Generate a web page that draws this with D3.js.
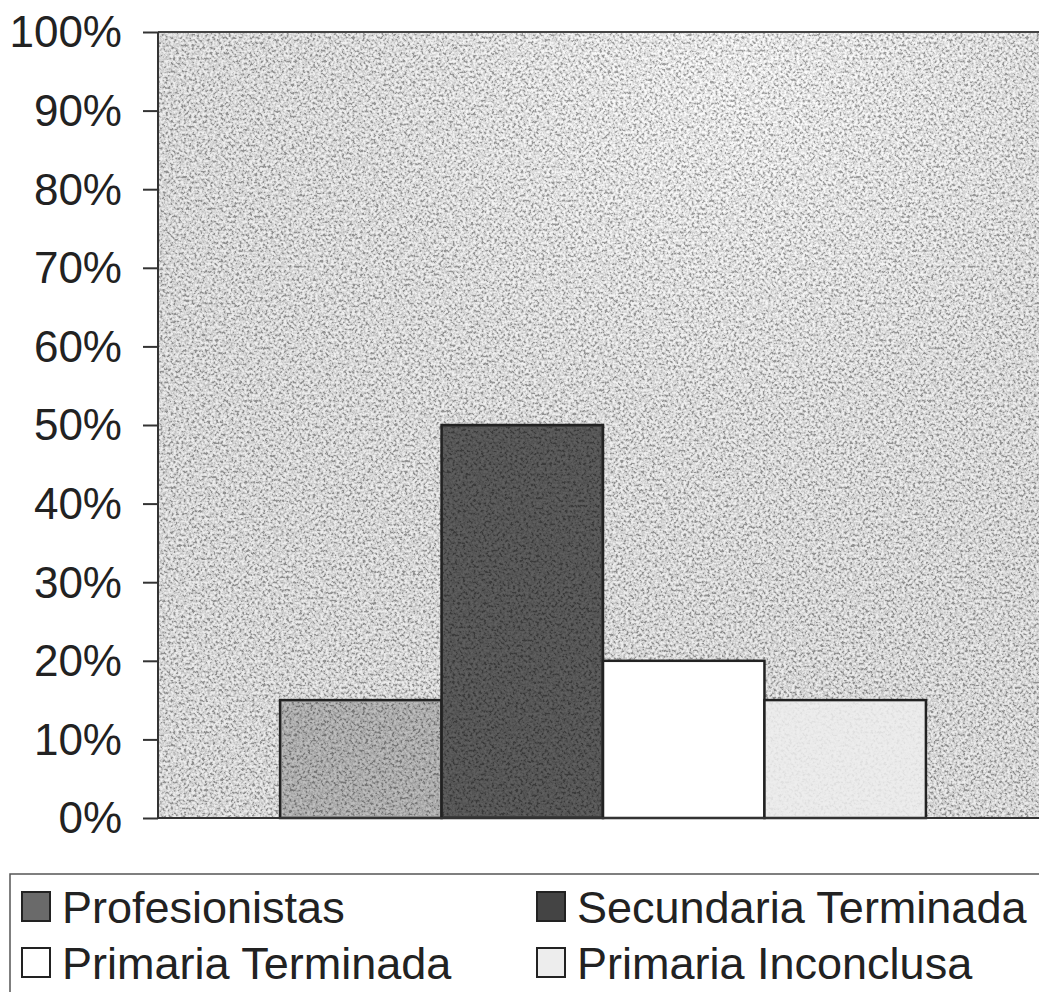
<!DOCTYPE html>
<html lang="es">
<head>
  <meta charset="UTF-8">
  <title>Nivel de estudios</title>
  <style>
    body { margin: 0; background: #fff; }
    svg text { font-family: "Liberation Sans", Arial, sans-serif; fill: #222; }
    .axis path, .axis line { stroke: #333; stroke-width: 2px; }
  </style>
</head>
<body>
  <script src="https://cdn.jsdelivr.net/npm/d3@7"></script>
  <script>

    // datos
    var categories = ["Nivel"];
    var series = ["Profesionistas", "Secundaria Terminada", "Primaria Terminada", "Primaria Inconclusa"];
    var values = [0.15, 0.50, 0.20, 0.15];
    var colors = ["#a4a4a4", "#444444", "#ffffff", "#ededed"];
    var yTicks = [0, 0.1, 0.2, 0.3, 0.4, 0.5, 0.6, 0.7, 0.8, 0.9, 1];

    var width = 1039, height = 992;
    var margin = { top: 32, left: 158, bottom: 818, right: 1048 };

    var svg = d3.select("body").append("svg")
        .attr("width", width)
        .attr("height", height);

    // textura granulada (ruido gris)
    var defs = svg.append("defs");
    var f = defs.append("filter").attr("id", "grain")
        .attr("x", 0).attr("y", 0).attr("width", "100%").attr("height", "100%");
    f.append("feTurbulence").attr("type", "fractalNoise")
        .attr("baseFrequency", 0.38).attr("numOctaves", 2).attr("seed", 7).attr("result", "noise");
    f.append("feColorMatrix").attr("in", "noise").attr("type", "matrix")
        .attr("values", "2.8 0 0 0 -0.9  2.8 0 0 0 -0.9  2.8 0 0 0 -0.9  0 0 0 0 1");

    var grad = defs.append("radialGradient").attr("id", "bgGrad")
        .attr("cx", "0.65").attr("cy", "0.06").attr("r", "0.7");
    grad.append("stop").attr("offset", "0").attr("stop-color", "#fdfdfd");
    grad.append("stop").attr("offset", "0.6").attr("stop-color", "#e8e8e8");
    grad.append("stop").attr("offset", "1").attr("stop-color", "#e2e2e2");

    var x = d3.scaleBand()
        .domain(categories)
        .range([margin.left, margin.right])
        .padding(0.159);

    var xs = d3.scaleBand()
        .domain(series)
        .range([0, x.bandwidth()])
        .padding(0);

    var y = d3.scaleLinear()
        .domain([0, 1])
        .range([margin.bottom, margin.top]);

    // area de trazado
    svg.append("rect")
        .attr("x", margin.left).attr("y", margin.top)
        .attr("width", margin.right - margin.left)
        .attr("height", margin.bottom - margin.top)
        .attr("fill", "url(#bgGrad)");
    svg.append("rect")
        .attr("x", margin.left).attr("y", margin.top)
        .attr("width", margin.right - margin.left)
        .attr("height", margin.bottom - margin.top)
        .attr("fill", "#000")
        .attr("filter", "url(#grain)")
        .attr("opacity", 0.36);

    // barras
    var bars = svg.append("g").selectAll("g")
        .data(series)
        .enter().append("g");

    bars.append("rect")
        .attr("x", function(d){ return x(categories[0]) + xs(d); })
        .attr("y", function(d, i){ return y(values[i]); })
        .attr("width", xs.bandwidth())
        .attr("height", function(d, i){ return y(0) - y(values[i]); })
        .attr("fill", function(d, i){ return colors[i]; })
        .attr("stroke", "#222")
        .attr("stroke-width", 2.5);

    // grano sobre barras con trama
    var grainOpacity = [0.28, 0.14, 0, 0.05];
    bars.filter(function(d, i){ return grainOpacity[i] > 0; })
        .append("rect")
        .attr("x", function(d){ return x(categories[0]) + xs(d) + 2; })
        .attr("y", function(d){ return y(values[series.indexOf(d)]) + 2; })
        .attr("width", xs.bandwidth() - 4)
        .attr("height", function(d){ return y(0) - y(values[series.indexOf(d)]) - 4; })
        .attr("fill", "#000")
        .attr("filter", "url(#grain)")
        .attr("opacity", function(d){ return grainOpacity[series.indexOf(d)]; });

    // borde superior
    svg.append("line")
        .attr("x1", margin.left).attr("x2", margin.right)
        .attr("y1", margin.top).attr("y2", margin.top)
        .attr("stroke", "#444").attr("stroke-width", 2);

    // ejes
    svg.append("g")
        .attr("class", "axis")
        .attr("transform", "translate(" + margin.left + ",0)")
        .call(d3.axisLeft(y).tickValues(yTicks).tickSize(15).tickPadding(21)
              .tickFormat(d3.format(".0%")))
        .call(function(g){ g.select(".domain").attr("d", "M0," + margin.top + "V" + margin.bottom); })
        .selectAll("text")
          .style("font-size", "44px")
          .attr("dy", "0.34em");

    svg.append("line")
        .attr("x1", margin.left).attr("x2", margin.right)
        .attr("y1", margin.bottom).attr("y2", margin.bottom)
        .attr("stroke", "#333").attr("stroke-width", 2);

    // leyenda
    var legend = svg.append("g");
    legend.append("path")
        .attr("d", "M10,1000V874H1045")
        .attr("fill", "none")
        .attr("stroke", "#555")
        .attr("stroke-width", 1.5);

    var cols = [22, 537];
    var rows = [923, 979];

    var item = legend.selectAll("g.item")
        .data(series)
        .enter().append("g")
          .attr("class", "item")
          .attr("transform", function(d, i){
            return "translate(" + cols[i % 2] + "," + rows[Math.floor(i / 2)] + ")";
          });

    item.append("rect")
        .attr("x", 0).attr("y", -31)
        .attr("width", 28).attr("height", 29)
        .attr("fill", function(d, i){ return i === 0 ? "#6a6a6a" : colors[i]; })
        .attr("stroke", "#222")
        .attr("stroke-width", 2);

    item.append("text")
        .attr("x", 40)
        .attr("y", 0)
        .style("font-size", "45px")
        .text(function(d){ return d; });

  </script>
</body>
</html>
